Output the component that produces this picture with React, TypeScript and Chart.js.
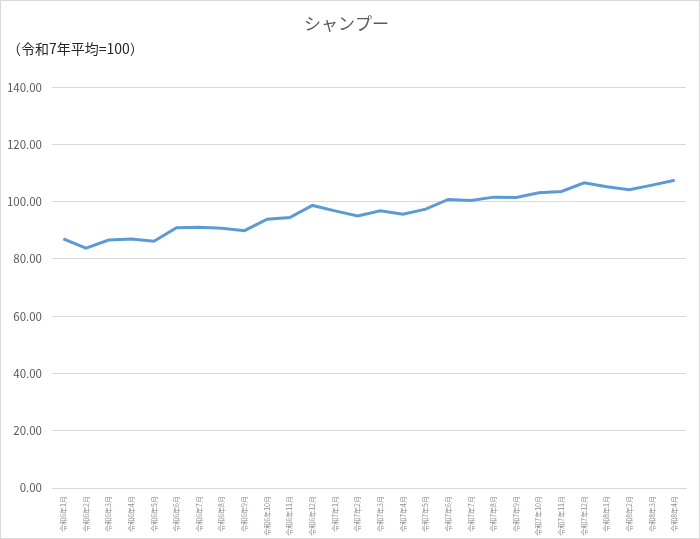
import { useEffect, useRef } from "react"
import { Chart, registerables } from "chart.js"

Chart.register(...registerables)

const TITLE = "シャンプー"
const SUBTITLE = "（令和7年平均=100）"

const months = [
  "令和6年1月", "令和6年2月", "令和6年3月", "令和6年4月", "令和6年5月", "令和6年6月",
  "令和6年7月", "令和6年8月", "令和6年9月", "令和6年10月", "令和6年11月", "令和6年12月",
  "令和7年1月", "令和7年2月", "令和7年3月", "令和7年4月", "令和7年5月", "令和7年6月",
  "令和7年7月", "令和7年8月", "令和7年9月", "令和7年10月", "令和7年11月", "令和7年12月",
  "令和8年1月", "令和8年2月", "令和8年3月", "令和8年4月",
]

const indexValues = [
  87.0, 83.8, 86.6, 87.0, 86.2, 90.9, 91.1, 90.7, 89.9, 93.9, 94.5, 98.7,
  96.8, 95.0, 96.8, 95.6, 97.4, 100.8, 100.4, 101.6, 101.5, 103.1, 103.6, 106.6,
  105.2, 104.2, 105.8, 107.5,
]

const yMin = 0
const yMax = 140
const yStep = 20

const FONT = "'Noto Sans CJK JP', 'Noto Sans', sans-serif"

export default function App() {
  const canvasRef = useRef<HTMLCanvasElement>(null)
  const chartRef = useRef<Chart | null>(null)

  useEffect(() => {
    if (!canvasRef.current) return
    if (chartRef.current) chartRef.current.destroy()

    chartRef.current = new Chart(canvasRef.current, {
      type: "line",
      data: {
        labels: months,
        datasets: [
          {
            label: TITLE,
            data: indexValues,
            borderColor: "#5b9bd5",
            borderWidth: 3,
            pointRadius: 0,
            tension: 0,
            fill: false,
          },
        ],
      },
      options: {
        animation: false,
        responsive: false,
        layout: { padding: { left: 6, right: 13, top: 0, bottom: 0 } },
        plugins: {
          legend: { display: false },
          tooltip: { enabled: false },
          title: {
            display: true,
            text: TITLE,
            color: "#595959",
            font: { family: FONT, size: 17, weight: "normal" },
            padding: { top: 12, bottom: 7 },
          },
          subtitle: {
            display: true,
            text: SUBTITLE,
            align: "start",
            color: "#262626",
            font: { family: FONT, size: 14, weight: "normal" },
            padding: { top: 0, bottom: 30 },
          },
        },
        scales: {
          x: {
            offset: true,
            grid: { display: false },
            border: { color: "#d9d9d9", width: 1 },
            afterFit: (scale) => {
              scale.height = 50
            },
            ticks: {
              autoSkip: false,
              minRotation: 90,
              maxRotation: 90,
              color: "#8c8c8c",
              font: { family: FONT, size: 7 },
              padding: 0,
            },
          },
          y: {
            min: yMin,
            max: yMax,
            grid: { color: "#d9d9d9", drawTicks: false },
            border: { display: false },
            afterFit: (scale) => {
              scale.width = 45
            },
            ticks: {
              stepSize: yStep,
              color: "#595959",
              font: { family: FONT, size: 11.5 },
              padding: 10,
              callback: (v) => Number(v).toFixed(2),
            },
          },
        },
      },
    })

    return () => {
      chartRef.current?.destroy()
      chartRef.current = null
    }
  }, [])

  return (
    <div
      style={{
        position: "fixed",
        left: 0,
        top: 0,
        width: 700,
        height: 539,
        boxSizing: "border-box",
        border: "1px solid #d9d9d9",
        background: "#fff",
      }}
    >
      <canvas ref={canvasRef} width={698} height={537} style={{ display: "block" }} />
    </div>
  )
}
